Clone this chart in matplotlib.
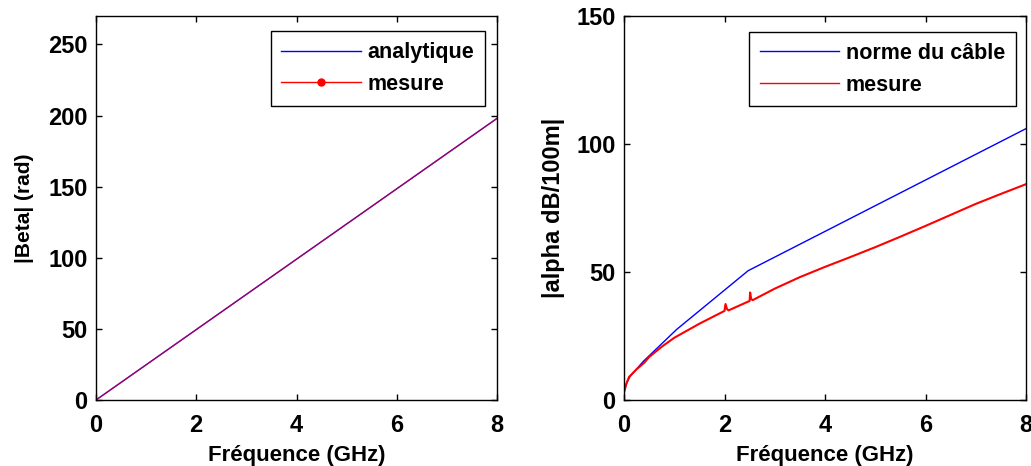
import numpy as np
import matplotlib.pyplot as plt
from matplotlib.lines import Line2D

plt.rcParams['font.family'] = ['Liberation Sans', 'DejaVu Sans']
plt.rcParams['font.weight'] = 'bold'
plt.rcParams['font.size'] = 15

# left panel : |Beta| vs frequency
f_beta = [0, 8]
beta_analytique = [0, 198]
beta_mesure = [0, 198]

# right panel : attenuation
f_norme = [0, 0.05, 0.12, 0.385, 1.05, 2.47, 8.0]
alpha_norme = [3, 6.5, 9.2, 15.1, 27.6, 50.5, 106]

f_mes = [0, 0.05, 0.1, 0.25, 0.4, 0.5, 0.75, 1.0, 1.5, 2.0, 2.02, 2.05, 2.08, 2.5,
         2.51, 2.53, 2.56, 3.0, 3.5, 4.0, 4.5, 5.0, 5.5, 6.0, 6.5, 7.0, 7.5, 8.0]
alpha_mes = [3, 6.5, 9.0, 12.0, 14.5, 16.8, 20.8, 24.3, 29.8, 34.8, 37.5, 35.5, 35.0, 38.7,
             42.0, 39.5, 39.0, 43.5, 48.0, 52.0, 55.8, 59.7, 63.8, 68.0, 72.3, 76.6, 80.5, 84.3]

fig = plt.figure(figsize=(10.31, 4.66), dpi=100)
ax1 = fig.add_axes([96/1031, 66/466, 401/1031, 384/466])
ax2 = fig.add_axes([624/1031, 66/466, 402/1031, 384/466])

ax1.plot(f_beta, beta_analytique, color='blue', lw=1)
ax1.plot(f_beta, beta_mesure, color='red', lw=1, alpha=0.6)
ax1.set_xlim(0, 8)
ax1.set_ylim(0, 270)
ax1.set_yticks([0, 50, 100, 150, 200, 250])
ax1.set_xticks([0, 2, 4, 6, 8])
ax1.set_xlabel('Fréquence (GHz)', fontweight='bold', fontsize=16, labelpad=6)
ax1.set_ylabel('|Beta| (rad)', fontweight='bold', fontsize=15, labelpad=10)
h1 = [Line2D([], [], color='blue', lw=1),
      Line2D([], [], color='red', lw=1, marker='o', markersize=5, markevery=[1])]
ax1.legend(h1, ['analytique', 'mesure'], loc='upper right', bbox_to_anchor=(0.97, 0.96),
           borderaxespad=0, fancybox=False, edgecolor='black', framealpha=1,
           handlelength=3.7, handletextpad=0.3, borderpad=0.5, labelspacing=0.5,
           prop={'size': 15.5, 'weight': 'bold'})

ax2.plot(f_norme, alpha_norme, color='blue', lw=1)
ax2.plot(f_mes, alpha_mes, color='red', lw=1.5)
ax2.set_xlim(0, 8)
ax2.set_ylim(0, 150)
ax2.set_yticks([0, 50, 100, 150])
ax2.set_xticks([0, 2, 4, 6, 8])
ax2.set_xlabel('Fréquence (GHz)', fontweight='bold', fontsize=16, labelpad=6)
ax2.set_ylabel('|alpha dB/100m|', fontweight='bold', fontsize=17, labelpad=8)
h2 = [Line2D([], [], color='blue', lw=1), Line2D([], [], color='red', lw=1)]
ax2.legend(h2, ['norme du câble', 'mesure'], loc='upper right', bbox_to_anchor=(0.975, 0.958),
           borderaxespad=0, fancybox=False, edgecolor='black', framealpha=1,
           handlelength=3.7, handletextpad=0.3, borderpad=0.5, labelspacing=0.5,
           prop={'size': 15.5, 'weight': 'bold'})

for ax in (ax1, ax2):
    ax.tick_params(direction='in', top=True, right=True, length=4, width=1, labelsize=17)
    ax.tick_params(axis='x', pad=10)
    ax.tick_params(axis='y', pad=6)
    for sp in ax.spines.values():
        sp.set_linewidth(1)
    ax.get_legend().get_frame().set_linewidth(1)

fig.savefig('out.png', dpi=100)
